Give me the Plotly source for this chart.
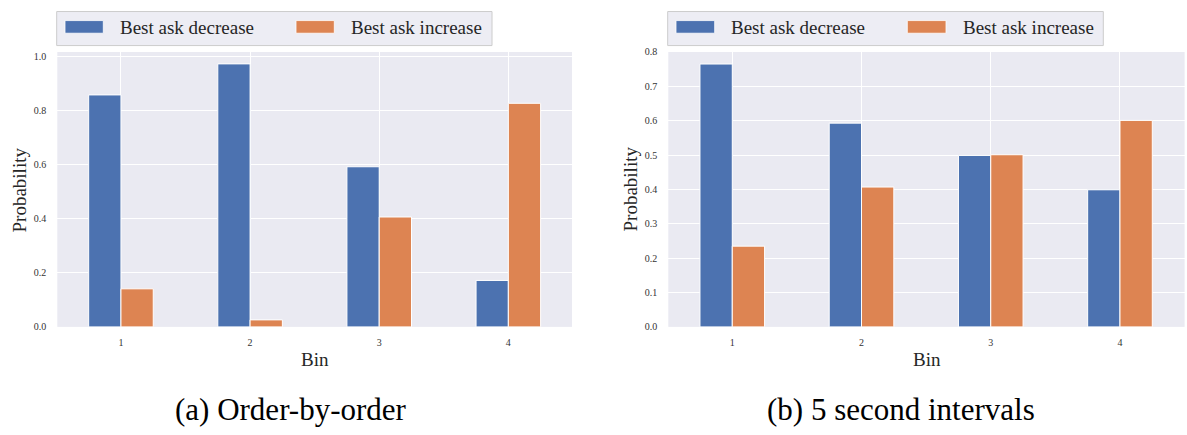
import plotly.graph_objects as go

# ---- data ----
bins = [1, 2, 3, 4]
bin_labels = ["1", "2", "3", "4"]
left_decrease = [0.859, 0.974, 0.593, 0.172]
left_increase = [0.141, 0.026, 0.407, 0.828]
right_decrease = [0.765, 0.593, 0.499, 0.399]
right_increase = [0.235, 0.407, 0.501, 0.601]
series_names = ["Best ask decrease", "Best ask increase"]
captions = ["(a) Order-by-order", "(b) 5 second intervals"]

W, H = 1187, 435
BLUE = "#4C72B0"
ORANGE = "#DD8452"
BG = "#EAEAF2"
FONT = "Liberation Serif, 'Times New Roman', 'DejaVu Serif', serif"
TXT = "#262626"


def px(x):
    return x / W


def py(y):
    return 1 - y / H


fig = go.Figure()

for vals, name, col in [(left_decrease, series_names[0], BLUE), (left_increase, series_names[1], ORANGE)]:
    fig.add_trace(go.Bar(x=bins, y=vals, name=name, marker=dict(color=col, line=dict(color="white", width=1)),
                         xaxis="x", yaxis="y", showlegend=False))
for vals, name, col in [(right_decrease, series_names[0], BLUE), (right_increase, series_names[1], ORANGE)]:
    fig.add_trace(go.Bar(x=bins, y=vals, name=name, marker=dict(color=col, line=dict(color="white", width=1)),
                         xaxis="x2", yaxis="y2", showlegend=False))

xcommon = dict(tickvals=bins, ticktext=bin_labels, showgrid=True, gridcolor="white", gridwidth=1.2,
               zeroline=False, showline=False, ticks="outside", ticklen=6, tickcolor="rgba(0,0,0,0)",
               tickfont=dict(family=FONT, size=10, color="#333333"))
ycommon = dict(showgrid=True, gridcolor="white", gridwidth=1.2, zeroline=False, showline=False,
               ticks="outside", ticklen=8, tickcolor="rgba(0,0,0,0)", tickformat=".1f",
               tickfont=dict(family=FONT, size=10, color="#333333"))

fig.update_layout(
    width=W, height=H, autosize=False,
    margin=dict(l=0, r=0, t=0, b=0),
    paper_bgcolor="white", plot_bgcolor=BG,
    barmode="group", bargap=0.5, bargroupgap=0,
    xaxis=dict(domain=[px(57.3), px(572)], range=[0.507, 4.493], anchor="y", **xcommon),
    yaxis=dict(domain=[py(330), py(47.3)], range=[0, 1.018], dtick=0.2, anchor="x", **ycommon),
    xaxis2=dict(domain=[px(668.3), px(1184.6)], range=[0.505, 4.5], anchor="y2", **xcommon),
    yaxis2=dict(domain=[py(330), py(47.3)], range=[0, 0.8], dtick=0.1, anchor="x2", **ycommon),
    showlegend=False,
)

shapes = []
annotations = []

# manual legends (box, swatches, labels)
legends = [
    dict(box=(56.7, 492), sw=[(65, 103.3), (296, 334.3)], tx=[119.3, 350]),
    dict(box=(667.7, 1103.3), sw=[(676, 714.7), (907.3, 946)], tx=[730, 961.7]),
]
for lg in legends:
    x0, x1 = lg["box"]
    shapes.append(dict(type="rect", xref="paper", yref="paper", x0=px(x0), x1=px(x1), y0=py(40.7), y1=py(5.7),
                       fillcolor="rgba(234,234,242,0.85)", line=dict(color="#cccccc", width=1), layer="above"))
    for (s0, s1), col in zip(lg["sw"], [BLUE, ORANGE]):
        shapes.append(dict(type="rect", xref="paper", yref="paper", x0=px(s0), x1=px(s1), y0=py(28), y1=py(15),
                           fillcolor=col, line=dict(color="white", width=0.8), layer="above"))
    for t, name in zip(lg["tx"], series_names):
        annotations.append(dict(text=name, xref="paper", yref="paper", x=px(t - 1), y=py(22.5),
                                xanchor="left", yanchor="middle", showarrow=False,
                                font=dict(family=FONT, size=19, color=TXT)))

# axis titles
for cx in [314.7, 926.5]:
    annotations.append(dict(text="Bin", xref="paper", yref="paper", x=px(cx), y=py(364), xanchor="center",
                            yanchor="middle", showarrow=False, font=dict(family=FONT, size=19, color=TXT)))
for cx in [19, 630]:
    annotations.append(dict(text="Probability", xref="paper", yref="paper", x=px(cx), y=py(188.7),
                            xanchor="center", yanchor="middle", textangle=-90, showarrow=False,
                            font=dict(family=FONT, size=19, color=TXT)))

# captions
for cx, cap in zip([291, 901], captions):
    annotations.append(dict(text=cap, xref="paper", yref="paper", x=px(cx), y=py(415), xanchor="center",
                            yanchor="middle", showarrow=False, font=dict(family=FONT, size=31, color="black")))

fig.update_layout(shapes=shapes, annotations=annotations)
fig.write_html("out.html")
